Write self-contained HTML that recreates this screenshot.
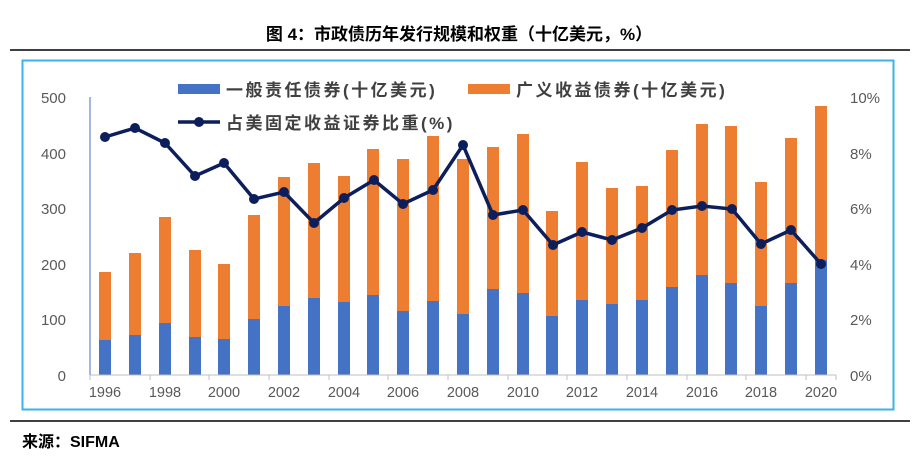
<!DOCTYPE html>
<html><head><meta charset="utf-8"><style>
body{margin:0;background:#fff;width:918px;height:463px;overflow:hidden;font-family:"Liberation Sans","Noto Sans CJK SC",sans-serif}
</style></head><body>
<svg width="918" height="463" xmlns="http://www.w3.org/2000/svg" font-family="Liberation Sans, Noto Sans CJK SC, sans-serif">
<text x="459" y="40" text-anchor="middle" font-size="17" font-weight="bold" fill="#000">图 4：市政债历年发行规模和权重（十亿美元，%）</text>
<line x1="10" y1="50" x2="910" y2="50" stroke="#000" stroke-width="1.5"/>
<rect x="22.5" y="60.5" width="871" height="349" fill="none" stroke="#3bb3e6" stroke-width="2"/>
<line x1="10" y1="421" x2="910" y2="421" stroke="#000" stroke-width="1.5"/>
<text x="22" y="447" font-size="16" font-weight="bold" fill="#000">来源：SIFMA</text>
<g font-size="15" fill="#595959" text-anchor="end">
<text x="66" y="103">500</text><text x="66" y="159">400</text><text x="66" y="214">300</text><text x="66" y="270">200</text><text x="66" y="325">100</text><text x="66" y="381">0</text>
</g>
<g font-size="15" fill="#595959" text-anchor="start">
<text x="850" y="103">10%</text><text x="850" y="159">8%</text><text x="850" y="214">6%</text><text x="850" y="270">4%</text><text x="850" y="325">2%</text><text x="850" y="381">0%</text>
</g>
<g font-size="14.5" fill="#595959" text-anchor="middle">
<text x="105" y="397">1996</text><text x="165" y="397">1998</text><text x="224" y="397">2000</text><text x="284" y="397">2002</text><text x="344" y="397">2004</text><text x="403" y="397">2006</text><text x="463" y="397">2008</text><text x="523" y="397">2010</text><text x="582" y="397">2012</text><text x="642" y="397">2014</text><text x="702" y="397">2016</text><text x="761" y="397">2018</text><text x="821" y="397">2020</text>
</g>
<g fill="#ed7d31">
<rect x="99" y="272" width="12" height="103"/><rect x="129" y="253" width="12" height="122"/><rect x="159" y="217" width="12" height="158"/><rect x="189" y="250" width="12" height="125"/><rect x="218" y="264" width="12" height="111"/><rect x="248" y="215" width="12" height="160"/><rect x="278" y="177" width="12" height="198"/><rect x="308" y="163" width="12" height="212"/><rect x="338" y="176" width="12" height="199"/><rect x="367" y="149" width="12" height="226"/><rect x="397" y="159" width="12" height="216"/><rect x="427" y="136" width="12" height="239"/><rect x="457" y="159" width="12" height="216"/><rect x="487" y="147" width="12" height="228"/><rect x="517" y="134" width="12" height="241"/><rect x="546" y="211" width="12" height="164"/><rect x="576" y="162" width="12" height="213"/><rect x="606" y="188" width="12" height="187"/><rect x="636" y="186" width="12" height="189"/><rect x="666" y="150" width="12" height="225"/><rect x="696" y="124" width="12" height="251"/><rect x="725" y="126" width="12" height="249"/><rect x="755" y="182" width="12" height="193"/><rect x="785" y="138" width="12" height="237"/><rect x="815" y="106" width="12" height="269"/>
</g>
<g fill="#4472c4">
<rect x="99" y="340" width="12" height="35"/><rect x="129" y="335" width="12" height="40"/><rect x="159" y="323" width="12" height="52"/><rect x="189" y="337" width="12" height="38"/><rect x="218" y="339" width="12" height="36"/><rect x="248" y="319" width="12" height="56"/><rect x="278" y="306" width="12" height="69"/><rect x="308" y="298" width="12" height="77"/><rect x="338" y="302" width="12" height="73"/><rect x="367" y="295" width="12" height="80"/><rect x="397" y="311" width="12" height="64"/><rect x="427" y="301" width="12" height="74"/><rect x="457" y="314" width="12" height="61"/><rect x="487" y="289" width="12" height="86"/><rect x="517" y="293" width="12" height="82"/><rect x="546" y="316" width="12" height="59"/><rect x="576" y="300" width="12" height="75"/><rect x="606" y="304" width="12" height="71"/><rect x="636" y="300" width="12" height="75"/><rect x="666" y="287" width="12" height="88"/><rect x="696" y="275" width="12" height="100"/><rect x="725" y="283" width="12" height="92"/><rect x="755" y="306" width="12" height="69"/><rect x="785" y="283" width="12" height="92"/><rect x="815" y="260" width="12" height="115"/>
</g>
<line x1="90" y1="97" x2="90" y2="375" stroke="#4472c4" stroke-width="1"/>
<line x1="90" y1="375" x2="836" y2="375" stroke="#bfbfbf" stroke-width="1"/>
<g stroke="#bfbfbf"><line x1="90" y1="375" x2="90" y2="380"/><line x1="150" y1="375" x2="150" y2="380"/><line x1="209" y1="375" x2="209" y2="380"/><line x1="269" y1="375" x2="269" y2="380"/><line x1="329" y1="375" x2="329" y2="380"/><line x1="388" y1="375" x2="388" y2="380"/><line x1="448" y1="375" x2="448" y2="380"/><line x1="508" y1="375" x2="508" y2="380"/><line x1="567" y1="375" x2="567" y2="380"/><line x1="627" y1="375" x2="627" y2="380"/><line x1="687" y1="375" x2="687" y2="380"/><line x1="746" y1="375" x2="746" y2="380"/><line x1="806" y1="375" x2="806" y2="380"/><line x1="836" y1="375" x2="836" y2="380"/></g>
<polyline fill="none" stroke="#0c1f5c" stroke-width="3.5" points="105,137 135,128 165,143 195,176 224,163 254,199 284,192 314,223 344,198 374,180 403,204 433,190 463,145 493,215 523,210 553,245 582,232 612,240 642,228 672,210 702,206 732,209 761,244 791,230 821,264"/>
<g fill="#0c1f5c">
<circle cx="105" cy="137" r="5"/><circle cx="135" cy="128" r="5"/><circle cx="165" cy="143" r="5"/><circle cx="195" cy="176" r="5"/><circle cx="224" cy="163" r="5"/><circle cx="254" cy="199" r="5"/><circle cx="284" cy="192" r="5"/><circle cx="314" cy="223" r="5"/><circle cx="344" cy="198" r="5"/><circle cx="374" cy="180" r="5"/><circle cx="403" cy="204" r="5"/><circle cx="433" cy="190" r="5"/><circle cx="463" cy="145" r="5"/><circle cx="493" cy="215" r="5"/><circle cx="523" cy="210" r="5"/><circle cx="553" cy="245" r="5"/><circle cx="582" cy="232" r="5"/><circle cx="612" cy="240" r="5"/><circle cx="642" cy="228" r="5"/><circle cx="672" cy="210" r="5"/><circle cx="702" cy="206" r="5"/><circle cx="732" cy="209" r="5"/><circle cx="761" cy="244" r="5"/><circle cx="791" cy="230" r="5"/><circle cx="821" cy="264" r="5"/>
</g>
<rect x="178" y="84" width="42" height="10" fill="#4472c4"/>
<text x="226" y="96" font-size="17" font-weight="bold" fill="#404040" letter-spacing="2.5">一般责任债券(十亿美元)</text>
<rect x="468" y="84" width="42" height="10" fill="#ed7d31"/>
<text x="516" y="96" font-size="17" font-weight="bold" fill="#404040" letter-spacing="2.5">广义收益债券(十亿美元)</text>
<line x1="178" y1="122" x2="220" y2="122" stroke="#0c1f5c" stroke-width="3.5"/>
<circle cx="199" cy="122" r="5" fill="#0c1f5c"/>
<text x="226" y="129" font-size="17" font-weight="bold" fill="#404040" letter-spacing="2.5">占美固定收益证券比重(%)</text>
</svg>
</body></html>
